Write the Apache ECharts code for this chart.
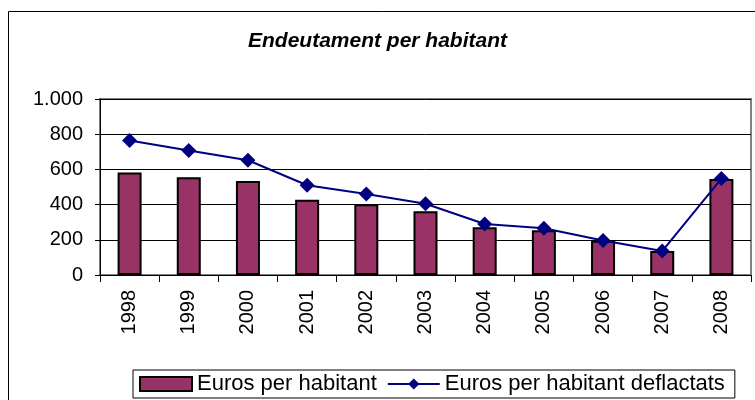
<!DOCTYPE html>
<html>
<head>
<meta charset="utf-8">
<script src="https://cdn.jsdelivr.net/npm/echarts@6/dist/echarts.min.js"></script>
<style>
  html, body { margin: 0; padding: 0; background: #fff; }
  #chart { width: 755px; height: 400px; }
</style>
</head>
<body>
<div id="chart"></div>
<script>
// data
const years = ['1998', '1999', '2000', '2001', '2002', '2003', '2004', '2005', '2006', '2007', '2008']
const eurosHab = [583, 556, 534, 428, 402, 362, 271, 254, 194, 136, 546]
const eurosDefl = [764, 707, 652, 510, 460, 405, 290, 266, 196, 136, 548]
const yTicks = [0, 200, 400, 600, 800, 1000]

const font = '"Liberation Sans", Arial, sans-serif'

const chart = echarts.init(document.getElementById('chart'))

const option = {
  animation: false,
  backgroundColor: '#fff',
  title: {
    text: 'Endeutament per habitant',
    left: 'center',
    top: 26,
    textStyle: { fontFamily: font, fontSize: 21, fontWeight: 'bold', fontStyle: 'italic', color: '#000' }
  },
  graphic: [{
    type: 'rect',
    shape: { x: 8.5, y: 11.5, width: 800, height: 500 },
    style: { fill: 'none', stroke: '#000', lineWidth: 1 },
    z: -1
  }],
  grid: {
    left: 100, right: 4, top: 99, bottom: 125,
    show: true, borderColor: '#808080', borderWidth: 2
  },
  legend: {
    left: 133, top: 370,
    itemWidth: 52, itemHeight: 14,
    itemGap: 10,
    padding: [3, 10, 3, 6],
    borderColor: '#000', borderWidth: 1,
    textStyle: { fontFamily: font, fontSize: 22, color: '#000' },
    data: [
      { name: 'Euros per habitant', icon: 'rect' },
      { name: 'Euros per habitant deflactats' }
    ]
  },
  xAxis: {
    type: 'category',
    data: years,
    boundaryGap: true,
    axisLine: { lineStyle: { color: '#000', width: 1 } },
    axisTick: { show: true, length: 7, lineStyle: { color: '#000' } },
    axisLabel: { rotate: 90, margin: 15, fontFamily: font, fontSize: 20, color: '#000' }
  },
  yAxis: {
    type: 'value',
    min: yTicks[0], max: yTicks[yTicks.length - 1], interval: 200,
    axisLine: { show: true, lineStyle: { color: '#000', width: 1 } },
    axisTick: { show: true, length: 5, lineStyle: { color: '#000' } },
    splitLine: { lineStyle: { color: '#000', width: 1 } },
    axisLabel: {
      margin: 17, fontFamily: font, fontSize: 20, color: '#000',
      formatter: v => v >= 1000 ? (v / 1000) + '.' + String(v % 1000).padStart(3, '0') : String(v)
    }
  },
  series: [
    {
      name: 'Euros per habitant',
      type: 'bar',
      data: eurosHab,
      barWidth: 24,
      itemStyle: { color: '#993366', borderColor: '#000', borderWidth: 2 }
    },
    {
      name: 'Euros per habitant deflactats',
      type: 'line',
      data: eurosDefl,
      symbol: 'diamond',
      symbolSize: 15,
      lineStyle: { color: '#000080', width: 2 },
      itemStyle: { color: '#000080' }
    }
  ]
}

chart.setOption(option)
</script>
</body>
</html>
